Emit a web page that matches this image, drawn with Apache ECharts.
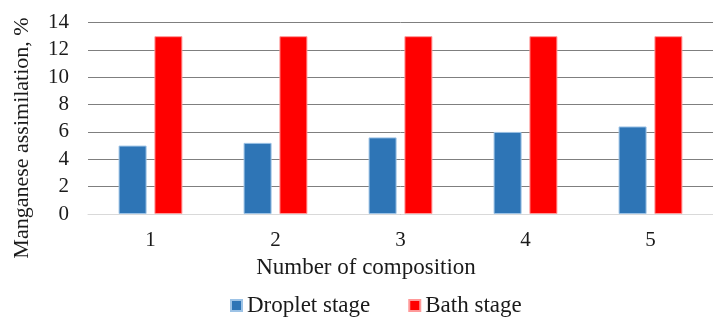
<!DOCTYPE html>
<html>
<head>
<meta charset="utf-8">
<script src="https://cdn.jsdelivr.net/npm/echarts@6/dist/echarts.min.js"></script>
<style>
  html, body { margin: 0; padding: 0; background: #fff; }
  #chart { width: 713px; height: 318px; }
</style>
</head>
<body>
<div id="chart"></div>
<script>
const categories = ['1', '2', '3', '4', '5']
const dropletStage = [5.0, 5.2, 5.6, 6.0, 6.4]
const bathStage = [13, 13, 13, 13, 13]
const yTicks = [0, 2, 4, 6, 8, 10, 12, 14]

const font = 'Liberation Serif'
const chart = echarts.init(document.getElementById('chart'))
chart.setOption({
  animation: false,
  textStyle: { fontFamily: font, color: '#1a1a1a' },
  grid: { left: 88, right: -1, top: 22.5, bottom: 104 },
  legend: {
    top: 289,
    left: 225,
    padding: 5,
    itemWidth: 11,
    itemHeight: 11,
    itemGap: 38,
    icon: 'rect',
    formatter: '{t|{name}}',
    textStyle: {
      fontFamily: font,
      fontSize: 23,
      color: '#1a1a1a',
      rich: { t: { fontFamily: font, fontSize: 23, lineHeight: 24, color: '#1a1a1a' } }
    },
    data: ['Droplet stage', 'Bath stage']
  },
  xAxis: {
    type: 'category',
    data: categories,
    axisLine: { lineStyle: { color: '#d9d9d9', width: 1 } },
    axisTick: { show: false },
    axisLabel: { fontFamily: font, fontSize: 21, color: '#1a1a1a', margin: 16 }
  },
  yAxis: {
    type: 'value',
    min: yTicks[0],
    max: yTicks[yTicks.length - 1],
    interval: 2,
    axisLine: { show: false },
    axisTick: { show: false },
    axisLabel: { fontFamily: font, fontSize: 21, color: '#1a1a1a', margin: 19 },
    splitLine: { lineStyle: { color: '#7f7f7f', width: 1 } }
  },
  graphic: [
    {
      type: 'text',
      x: 22,
      y: 138,
      rotation: Math.PI / 2,
      style: {
        text: 'Manganese assimilation, %',
        font: '22px "Liberation Serif"',
        fill: '#1a1a1a',
        align: 'center',
        verticalAlign: 'middle'
      }
    },
    {
      type: 'text',
      x: 366,
      y: 268,
      style: {
        text: 'Number of composition',
        font: '23px "Liberation Serif"',
        fill: '#1a1a1a',
        align: 'center',
        verticalAlign: 'middle'
      }
    }
  ],
  series: [
    {
      name: 'Droplet stage',
      type: 'bar',
      data: dropletStage,
      barWidth: 28,
      barGap: '28%',
      itemStyle: { color: '#2e75b6', borderColor: '#9dc3e6', borderWidth: 1 }
    },
    {
      name: 'Bath stage',
      type: 'bar',
      data: bathStage,
      barWidth: 28,
      barGap: '28%',
      itemStyle: { color: '#ff0000', borderColor: '#ff9999', borderWidth: 1 }
    }
  ]
})
</script>
</body>
</html>
